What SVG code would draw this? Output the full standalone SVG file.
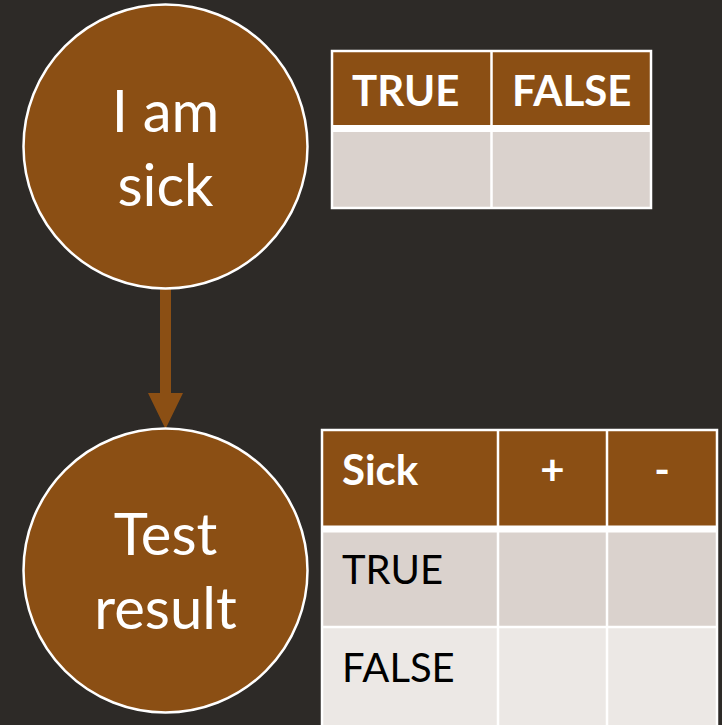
<svg xmlns="http://www.w3.org/2000/svg" width="722" height="725" viewBox="0 0 722 725">
  <style>
    .node { fill: #8B4F14; stroke: #FFFFFF; stroke-width: 2.5; }
    .ntxt { fill: #FFFFFF; font-family: Lato, "Open Sans", sans-serif; font-size: 58px; text-anchor: middle; }
    .hdr { fill: #8B4F14; }
    .body1 { fill: #DAD2CD; }
    .body2 { fill: #ECE8E5; }
    .grid { stroke: #FFFFFF; stroke-width: 2.5; fill: none; }
    .thick { stroke: #FFFFFF; stroke-width: 7; }
    .htxt { fill: #FFFFFF; font-family: Lato, "Open Sans", sans-serif; font-weight: bold; font-size: 42px; }
    .ctxt { fill: #000000; font-family: Lato, "Open Sans", sans-serif; font-size: 40px; }
  </style>
  <rect width="722" height="725" fill="#2D2A27"/>

  <g id="connectors">
    <path d="M160,288 L171,288 L171,393 L183,393 L165.5,429 L148,393 L160,393 Z" fill="#8B4F14"/>
  </g>

  <g id="node-sick">
    <circle class="node" cx="165.5" cy="146.5" r="142"/>
    <text class="ntxt" x="165.5" y="132">I am</text>
    <text class="ntxt" x="165.5" y="206">sick</text>
  </g>

  <g id="node-test">
    <circle class="node" cx="165.5" cy="570.5" r="142"/>
    <text class="ntxt" x="165.5" y="555">Test</text>
    <text class="ntxt" x="165.5" y="629">result</text>
  </g>

  <g id="table-prior">
    <rect class="hdr" x="332" y="51" width="319" height="77"/>
    <rect class="body1" x="332" y="128" width="319" height="80"/>
    <rect class="grid" x="332" y="51" width="319" height="157"/>
    <line class="grid" x1="491.5" y1="51" x2="491.5" y2="208"/>
    <line class="thick" x1="332" y1="128.5" x2="651" y2="128.5"/>
    <text class="htxt" x="352" y="106">TRUE</text>
    <text class="htxt" x="512" y="106">FALSE</text>
  </g>

  <g id="table-test">
    <rect class="hdr" x="322" y="430" width="395" height="98"/>
    <rect class="body1" x="322" y="528" width="395" height="99"/>
    <rect class="body2" x="322" y="627" width="395" height="100"/>
    <path class="grid" d="M322,727 L322,430 L717,430 L717,727"/>
    <line class="grid" x1="498" y1="430" x2="498" y2="727"/>
    <line class="grid" x1="607" y1="430" x2="607" y2="727"/>
    <line class="grid" x1="322" y1="627" x2="717" y2="627"/>
    <line class="thick" x1="322" y1="529" x2="717" y2="529"/>
    <text class="htxt" x="342" y="485">Sick</text>
    <text class="htxt" x="552.5" y="485" text-anchor="middle">+</text>
    <text class="htxt" x="662" y="485" text-anchor="middle">-</text>
    <text class="ctxt" x="342" y="584">TRUE</text>
    <text class="ctxt" x="342" y="682">FALSE</text>
  </g>
</svg>
